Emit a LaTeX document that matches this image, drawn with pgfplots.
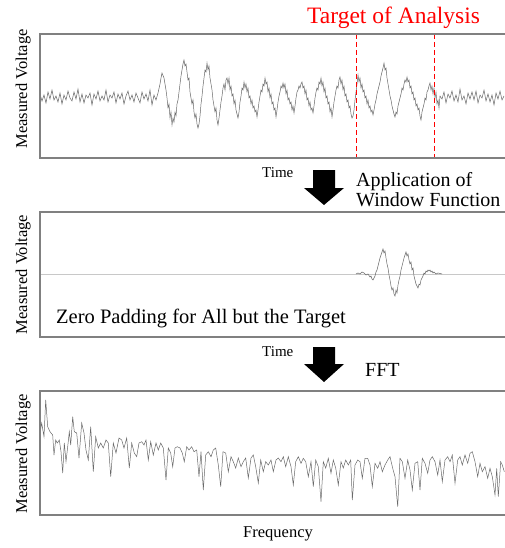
\documentclass[border=0pt]{standalone}
\usepackage{fontspec}
\setmainfont{Liberation Serif}
\usepackage{pgfplots}
\pgfplotsset{compat=1.18}
\definecolor{sig}{RGB}{105,105,105}
\definecolor{frm}{RGB}{128,128,128}
\definecolor{zl}{RGB}{200,200,200}
\pgfplotsset{panel/.style={scale only axis, width=465pt, xmin=40, xmax=505, y dir=reverse, hide axis, anchor=north west, clip=false}}
\begin{document}
\begin{tikzpicture}
\path[use as bounding box] (0,0) rectangle (505pt,-548pt);
% ---------- panel 1 ----------
\begin{axis}[panel, at={(40pt,-34pt)}, height=124pt, ymin=34, ymax=158]
\addplot[sig, line width=0.5pt] coordinates {
(40,94) (42,101) (44,95) (46,103) (48,92) (50,99) (52,90) (54,100) (56,96) (58,102) (60,93) (62,104) (64,95) (66,100) (68,91) (70,98) (72,101) (74,92) (76,99) (78,89) (80,102) (82,94) (84,103) (86,95) (88,98) (90,93) (92,105) (94,94) (96,99) (98,91) (100,101) (102,96) (104,100) (106,90) (108,102) (110,95) (112,98) (114,92) (116,103) (118,94) (120,99) (122,93) (124,104) (126,96) (128,91) (130,100) (132,95) (134,102) (136,93) (138,98) (140,103) (142,92) (144,99) (146,94) (148,101) (150,90) (152,105) (154,95) (156,100) (158,93)
(160,84) (161,78) (162,73) (164,78) (165,84) (166,90) (167,98) (168,108) (169,104) (170,118) (171,112) (172,125)
(173,118) (174,122) (175,112) (176,116) (177,104) (178,100) (179,92) (180,84) (181,76) (182,70) (183,64) (184,60)
(185,66) (186,64) (187,72) (188,80) (189,78) (190,92) (191,98) (192,104) (193,100) (194,112) (195,118) (196,114) (197,124) (198,128)
(199,124) (200,116) (201,104) (202,96) (203,86) (204,78) (205,70) (206,72) (207,63)
(208,70) (209,66) (210,78) (211,84) (212,90) (213,100) (214,106) (215,112) (216,108) (217,120) (218,125)
(219,118) (220,110) (221,102) (222,96) (223,88) (224,84) (225,90) (226,80) (227,78)
(228,84) (229,78) (230,90) (231,86) (232,96) (233,94) (234,104) (235,100) (236,110) (237,114) (238,118)
(239,112) (240,102) (241,96) (242,88) (243,90) (244,82)
(245,88) (246,84) (247,92) (248,88) (249,98) (250,96) (251,104) (252,100) (253,108) (254,106) (255,112) (256,110) (257,117)
(258,110) (259,102) (260,96) (261,90) (262,92) (263,84) (264,86) (265,78)
(266,84) (267,82) (268,92) (269,88) (270,98) (271,94) (272,104) (273,102) (274,110) (275,108) (276,117)
(277,110) (278,102) (279,96) (280,92) (281,86) (282,88) (283,83)
(284,88) (285,84) (286,94) (287,90) (288,100) (289,98) (290,104) (291,102) (292,110) (293,106) (294,113)
(295,106) (296,98) (297,92) (298,90) (299,86) (300,88) (301,84) (302,82)
(303,88) (304,86) (305,94) (306,90) (307,100) (308,98) (309,106) (310,102) (311,110) (312,108) (313,113)
(314,106) (315,98) (316,92) (317,88) (318,90) (319,82) (320,84) (321,78)
(322,86) (323,82) (324,92) (325,88) (326,98) (327,96) (328,104) (329,102) (330,112) (331,108) (332,117)
(333,110) (334,102) (335,96) (336,90) (337,86) (338,88) (339,80) (340,77)
(341,84) (342,80) (343,90) (344,86) (345,96) (346,94) (347,102) (348,100) (349,108) (350,106) (351,114) (352,118)
(353,116) (354,110) (355,100) (356,92) (357,84) (358,75)
(359,82) (360,78) (361,88) (362,84) (363,92) (364,90) (365,98) (366,96) (367,104) (368,100) (369,108) (370,106) (371,112) (372,110) (373,115)
(374,110) (375,104) (376,100) (377,94) (378,90) (379,86) (380,82) (381,76) (382,72) (383,68) (384,63)
(385,70) (386,68) (387,78) (388,84) (389,90) (390,96) (391,100) (392,106) (393,110) (394,114) (395,117)
(396,112) (397,114) (398,106) (399,102) (400,98) (401,94) (402,88) (403,90) (404,84) (405,80) (406,82) (407,77)
(408,82) (409,80) (410,88) (411,86) (412,94) (413,92) (414,100) (415,98) (416,106) (417,104) (418,110) (419,108) (420,116) (421,120)
(422,112) (423,108) (424,104) (425,98) (426,100) (427,92) (428,90) (429,86) (430,83)
(431,90) (432,86) (433,94) (434,88) (435,98) (436,92) (437,104) (438,100) (439,108) (440,96)
(442,99) (444,92) (446,103) (448,94) (450,98) (452,91) (454,101) (456,95) (458,102) (460,89) (462,100) (464,96) (466,104) (468,93) (470,99) (472,92) (474,100) (476,91) (478,103) (480,95) (482,98) (484,90) (486,101) (488,94) (490,102) (492,95) (494,105) (496,93) (498,99) (500,91) (502,100) (504,96)
};
\addplot[red, line width=0.8pt, dash pattern=on 5pt off 3pt] coordinates {(356,34) (356,158)};
\addplot[red, line width=0.8pt, dash pattern=on 5pt off 3pt] coordinates {(434,34) (434,158)};
\end{axis}
% ---------- panel 2 ----------
\begin{axis}[panel, at={(40pt,-212pt)}, height=125pt, ymin=212, ymax=337]
\addplot[zl, line width=0.6pt] coordinates {(40,274) (505,274)};
\addplot[sig, line width=0.5pt] coordinates {
(356,274) (358,273) (360,274) (362,272) (364,273) (366,275) (368,274) (370,277) (371,276) (372,279) (373,280) (374,278) (375,276) (376,272) (377,270) (378,266) (379,262) (380,258) (381,255) (382,252) (383,249) (384,253) (385,251) (386,258) (387,264) (388,268) (389,275) (390,280) (391,286) (392,290) (393,288) (394,294) (395,296) (396,290) (397,293) (398,285) (399,280) (400,276) (401,270) (402,266) (403,262) (404,258) (405,255) (406,252) (407,256) (408,254) (409,260) (410,264) (411,262) (412,270) (413,268) (414,276) (415,280) (416,284) (417,286) (418,288) (419,284) (420,285) (421,280) (422,278) (423,276) (424,273) (425,274) (426,271) (427,272) (428,270) (429,271) (430,270) (431,272) (432,271) (433,273) (434,272) (436,274) (438,273) (442,274)
};
\end{axis}
% ---------- panel 3 ----------
\begin{axis}[panel, at={(40pt,-391pt)}, height=124pt, ymin=391, ymax=515]
\addplot[sig, line width=0.5pt] coordinates {
(40,433) (41.7,423) (44,436.7) (45.7,400) (47.7,426.7) (50,431.7) (52.7,435) (54,455) (55.7,440) (57.3,443) (59.3,440) (61,451.7) (62.7,473) (64.3,443) (66,461.7) (67.7,446.7) (69.3,431.7) (70.7,445) (72.7,416.7) (74.3,431.7) (76.7,433) (79,458) (81.7,423) (84,433) (86,450) (88.3,460) (90.7,426.7) (93.3,471.7) (95.7,436.7) (98.3,448) (100.7,443) (103.3,448) (106,440) (108.3,443) (110.7,476.7) (113.3,443) (116,453) (119,438) (121.7,440) (124,448) (126.7,438) (129.3,468) (131.7,443) (134.3,453) (136.7,456.7) (139,443) (141.7,441.7) (144,445) (146,440) (148.3,460) (150.7,441.7) (153.3,455) (156,443) (158.3,450) (160.7,443) (163.3,448) (166,480) (168.3,448) (170.7,453) (172.7,466.7) (175,448) (177.3,446.7) (180,448) (182.3,453) (184.3,461.7) (186.7,446.7) (189,450) (191.7,446.7) (194,451.7) (196.7,450) (199,476.7) (201,451.7) (203.3,490) (205.7,455) (208.3,451.7) (211,456.7) (213.3,450) (215.7,448) (218.3,465) (220.7,486.7) (223,451.7) (225.7,453) (228.3,471.7) (231,456.7) (233.3,461.7) (235.7,468) (238.3,458) (241,466.7) (243.3,461.7) (245.7,458) (248.3,478) (251,458) (253.3,455) (255.7,466.7) (258.3,483) (260.7,460) (263.3,471.7) (265.7,461.7) (268.3,465) (271,460) (273.3,471.7) (276,460) (278.3,458) (281,461.7) (283.3,456.7) (285.7,466.7) (288.3,456.7) (291,466.7) (293.3,485) (295.7,461.7) (298.3,456.7) (301,463.3) (303.3,458.3) (305.7,461.7) (308.3,476.7) (311,461.7) (313.3,486.7) (315.7,460) (318.3,466.7) (321,501.7) (323.3,461.7) (325.7,468) (328.3,458.3) (331,473.3) (333.3,460) (335.7,468) (338.3,485) (341,461.7) (343.3,468) (345.7,460) (348.3,465) (350.7,460) (352.3,500) (355,465) (357.7,460) (360,461.7) (362.3,478.3) (365,458.3) (367.7,458.3) (370,465) (372.3,486.7) (375,463.3) (377.7,468.3) (380,461.7) (382.3,471.7) (385,465) (387.7,460) (390,456.7) (392.7,468.3) (395,476.7) (397.7,506.7) (400,458.3) (402.3,461.7) (405,478.3) (407.7,460) (410,470) (412.3,490) (415,463.3) (417.7,461.7) (420,490) (422.3,458.3) (425,463.3) (427.7,473.3) (430,460) (432.3,456.7) (435,461.7) (437.7,475) (440,460) (442.3,481.7) (445,460) (447.7,456.7) (450,461.7) (452.3,455) (455,483.3) (457.7,460) (460,456.7) (462.3,465) (465,455) (467.7,463.3) (470,453.3) (472.3,451.7) (475,461.7) (477.7,476.7) (480,463.3) (482.3,471.7) (485,466.7) (487.7,478.3) (490,468.3) (492.3,476.7) (495,495) (496.7,468.3) (498.3,496.7) (500.7,461.7) (502.3,465) (504.3,471.7)
};
\end{axis}
% ---------- frames ----------
\draw[frm, line width=1.3pt] (505pt,-34pt) -- (40pt,-34pt) -- (40pt,-158pt) -- (505pt,-158pt);
\draw[frm, line width=1.3pt] (505pt,-212pt) -- (40pt,-212pt) -- (40pt,-337pt) -- (505pt,-337pt);
\draw[frm, line width=1.3pt] (505pt,-391pt) -- (40pt,-391pt) -- (40pt,-515pt) -- (505pt,-515pt);
% ---------- arrows ----------
\fill[black] (313pt,-170pt) -- (335pt,-170pt) -- (335pt,-188pt) -- (344pt,-188pt) -- (324pt,-205pt) -- (304pt,-188pt) -- (313pt,-188pt) -- cycle;
\fill[black] (313pt,-347pt) -- (335pt,-347pt) -- (335pt,-364pt) -- (344pt,-364pt) -- (324pt,-382pt) -- (304pt,-364pt) -- (313pt,-364pt) -- cycle;
% ---------- texts ----------
\node[anchor=base west, inner sep=0pt, text=red, font=\fontsize{23.5}{26}\selectfont] at (307pt,-24pt) {Target of Analysis};
\node[rotate=90, anchor=base, inner sep=0pt, font=\fontsize{16.5}{18}\selectfont] at (27pt,-89pt) {Measured Voltage};
\node[rotate=90, anchor=base, inner sep=0pt, font=\fontsize{16.5}{18}\selectfont] at (27pt,-274.5pt) {Measured Voltage};
\node[rotate=90, anchor=base, inner sep=0pt, font=\fontsize{16.5}{18}\selectfont] at (27pt,-454pt) {Measured Voltage};
\node[anchor=base west, inner sep=0pt, font=\fontsize{15}{17}\selectfont] at (262pt,-178pt) {Time};
\node[anchor=base west, inner sep=0pt, font=\fontsize{15}{17}\selectfont] at (262pt,-356pt) {Time};
\node[anchor=base west, inner sep=0pt, font=\fontsize{20}{22}\selectfont] at (356pt,-186.5pt) {Application of};
\node[anchor=base west, inner sep=0pt, font=\fontsize{20}{22}\selectfont] at (356pt,-206.5pt) {Window Function};
\node[anchor=base west, inner sep=0pt, font=\fontsize{20.5}{22}\selectfont] at (56pt,-323pt) {Zero Padding for All but the Target};
\node[anchor=base west, inner sep=0pt, font=\fontsize{20}{22}\selectfont] at (365pt,-376pt) {FFT};
\node[anchor=base west, inner sep=0pt, font=\fontsize{16.5}{18}\selectfont] at (243pt,-537pt) {Frequency};
\end{tikzpicture}
\end{document}
